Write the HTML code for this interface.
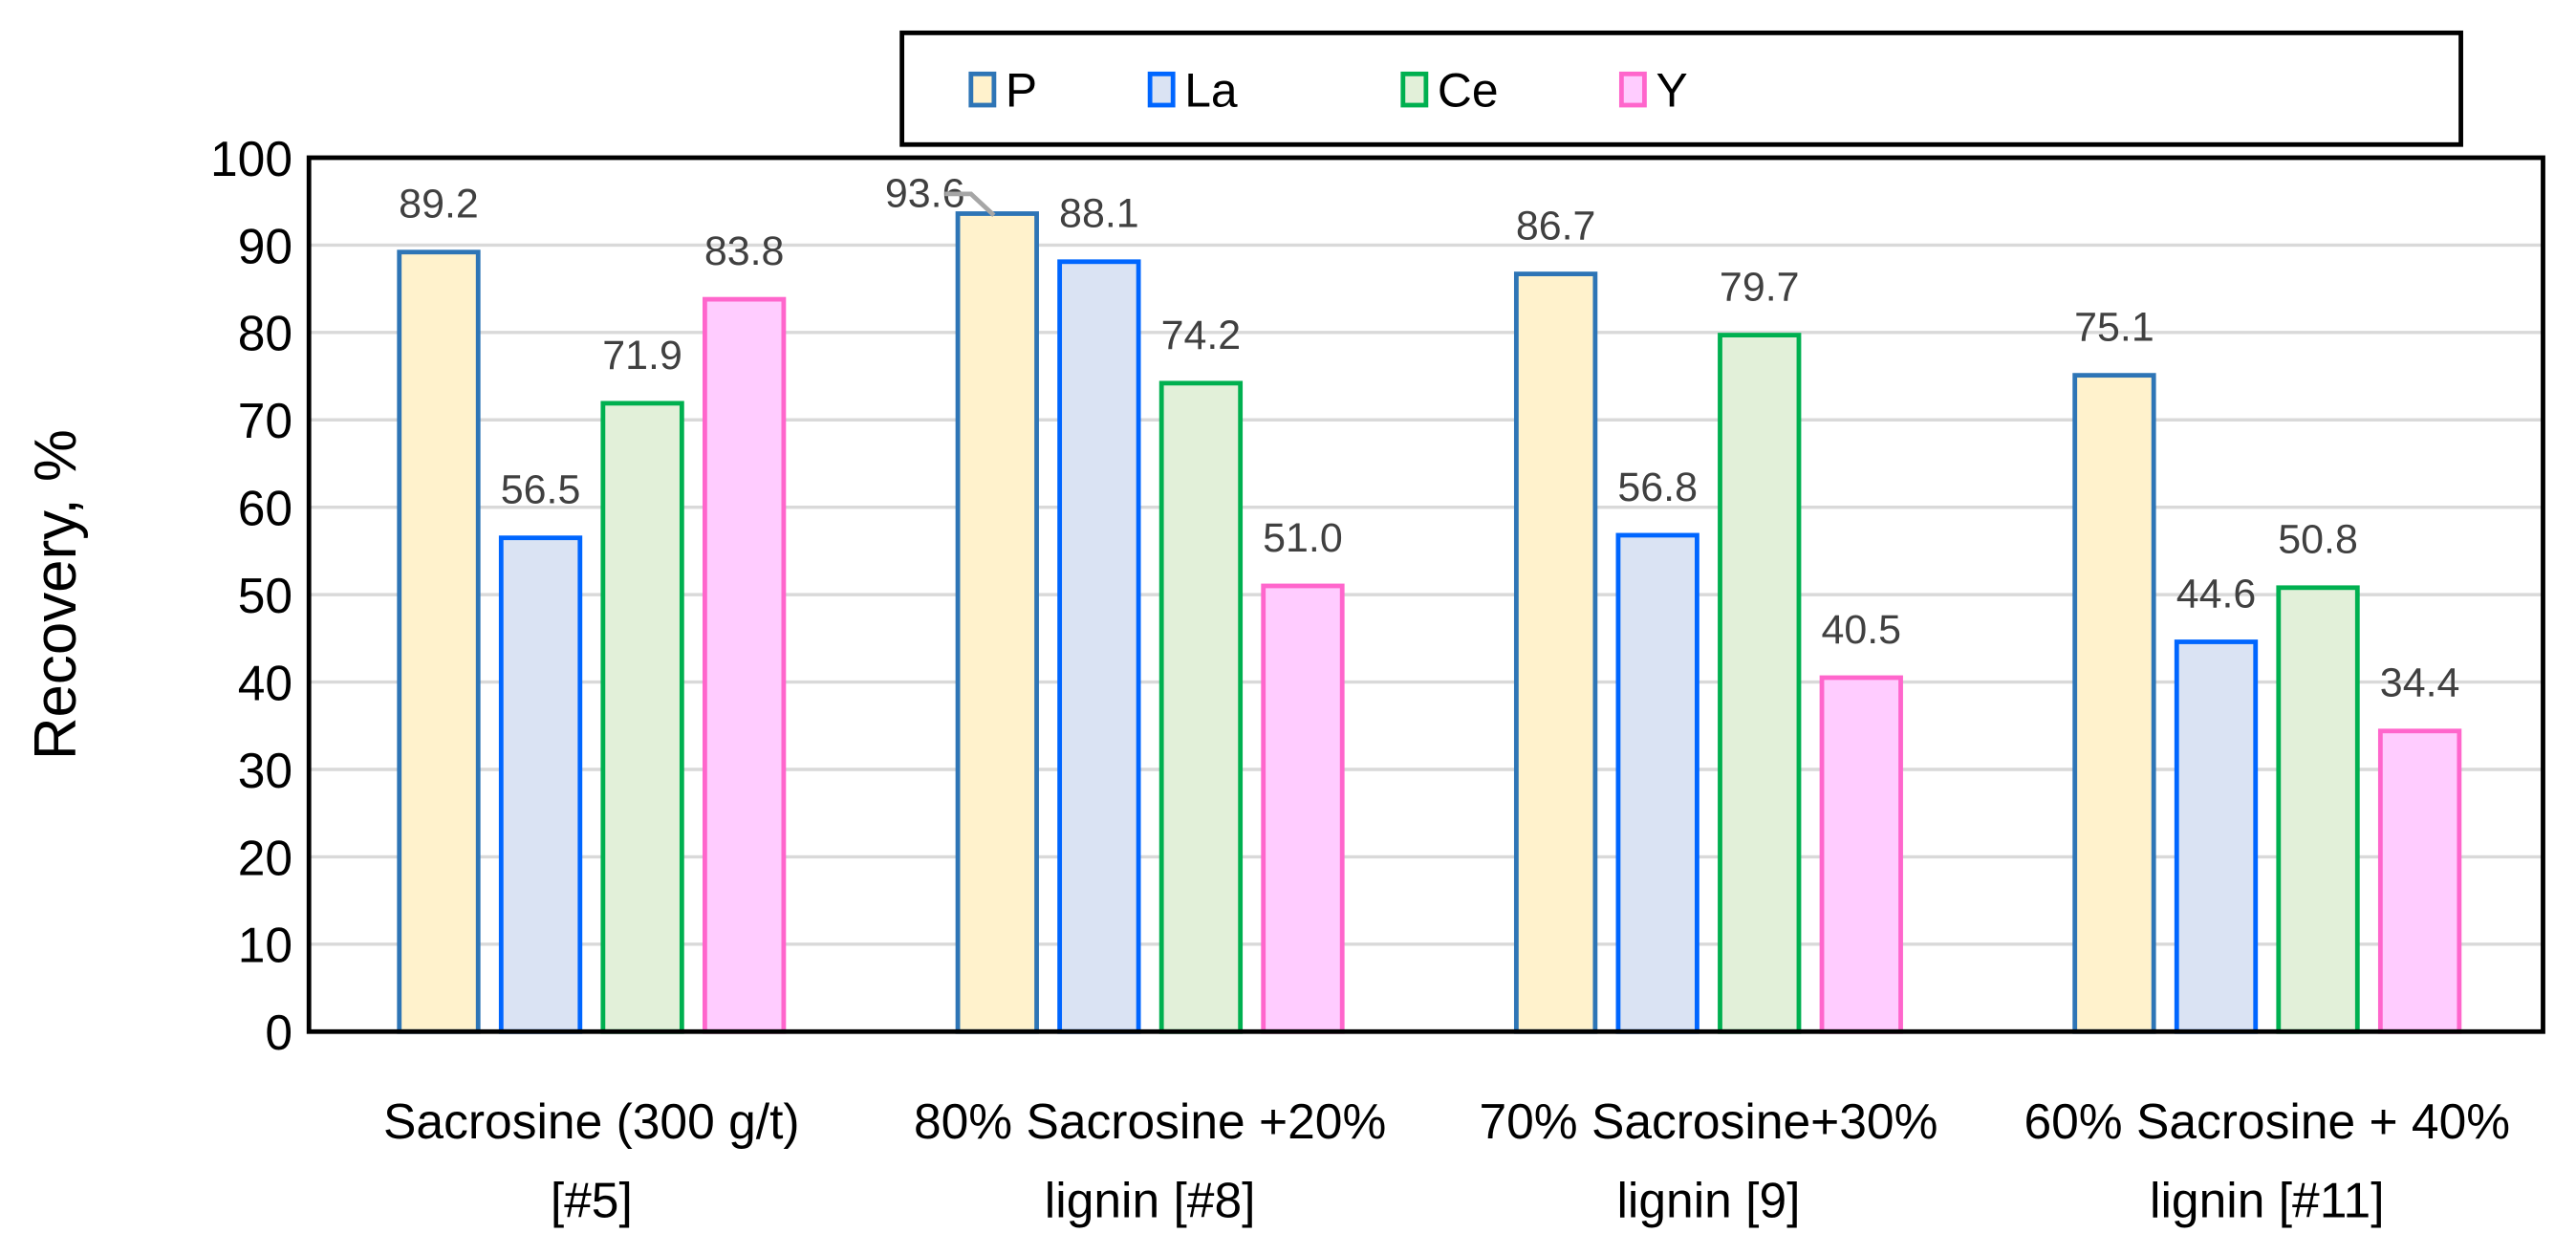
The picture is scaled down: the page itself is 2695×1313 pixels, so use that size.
<!DOCTYPE html>
<html><head><meta charset="utf-8"><style>
html,body{margin:0;padding:0;background:#fff}
svg{display:block}
text{font-family:"Liberation Sans","DejaVu Sans",sans-serif}
</style></head><body>
<svg id="chart" width="2695" height="1313" viewBox="0 0 1568 764" xmlns="http://www.w3.org/2000/svg">
<g id="grid"></g>
<g id="bars"></g>
<g id="labels"></g>
<rect x="188" y="96" width="1360" height="532" fill="none" stroke="#000" stroke-width="2.8"/>
<g id="yticks"></g>
<g id="xcats"></g>
<text transform="translate(46,362) rotate(-90)" text-anchor="middle" font-size="36" fill="#000">Recovery, %</text>
<g>
<rect x="549" y="20" width="949" height="68" fill="#fff" stroke="#000" stroke-width="2.8"/>
<g id="legend-items"></g>
</g>
</svg>
<script>
const categories = [["Sacrosine (300 g/t)","[#5]"],["80% Sacrosine +20%","lignin [#8]"],["70% Sacrosine+30%","lignin [9]"],["60% Sacrosine + 40%","lignin [#11]"]];
const seriesNames = ["P","La","Ce","Y"];
const P = [89.2, 93.6, 86.7, 75.1];
const La = [56.5, 88.1, 56.8, 44.6];
const Ce = [71.9, 74.2, 79.7, 50.8];
const Y = [83.8, 51.0, 40.5, 34.4];
const yTicks = [0,10,20,30,40,50,60,70,80,90,100];

const series = [P, La, Ce, Y];
const fills = ["#FFF2CC","#DAE3F3","#E2F0D9","#FFCCFF"];
const strokes = ["#2E75B6","#0066FF","#00B050","#FF66CC"];
const NS = "http://www.w3.org/2000/svg";
const X0 = 188, X1 = 1548, Y0 = 628, Y1 = 96;
const band = (X1 - X0) / categories.length;
function yScale(v){ return Y0 - (v / 100) * (Y0 - Y1); }
function xBar(ci, si){ return X0 + ci * band + 55 + si * 62; }
function mk(tag, attrs, parent){ const e = document.createElementNS(NS, tag); for (const k in attrs) e.setAttribute(k, attrs[k]); parent.appendChild(e); return e; }

const grid = document.getElementById('grid');
const yt = document.getElementById('yticks');
yTicks.forEach(t => {
  const y = yScale(t);
  if (t > 0 && t < 100) {
    const l = mk('line', {x1: X0, x2: X1, y1: y, y2: y, stroke: '#D9D9D9', 'stroke-width': 2}, grid);
    
    
  }
  const tx = mk('text', {x: 178, y: y + 11, 'text-anchor': 'end', 'font-size': 30, fill: '#000'}, yt);
  tx.textContent = t;
  
  
});

const bars = document.getElementById('bars');
const labels = document.getElementById('labels');
series.forEach((s, si) => {
  s.forEach((v, ci) => {
    const x = xBar(ci, si), y = yScale(v);
    const r = mk('rect', {x: x, y: y, width: 48, height: Y0 - y, fill: fills[si], stroke: strokes[si], 'stroke-width': 2.8}, bars);
    
    
    const lbl = mk('text', {'font-size': 25, fill: '#404040', 'text-anchor': 'middle'}, labels);
    lbl.textContent = v.toFixed(1);
    if (si === 0 && ci === 1) {
      lbl.setAttribute('x', x - 20); lbl.setAttribute('y', y - 4);
      const ld = mk('polyline', {points: (x - 8) + ',' + (y - 12) + ' ' + (x + 8) + ',' + (y - 12) + ' ' + (x + 22) + ',' + (y + 1), fill: 'none', stroke: '#A6A6A6', 'stroke-width': 2.8}, labels);
      
      
    } else {
      lbl.setAttribute('x', x + 24); lbl.setAttribute('y', y - 21);
    }
    
    
  });
});

const xc = document.getElementById('xcats');
categories.forEach((c, ci) => {
  const cx = X0 + ci * band + band / 2 + 2;
  c.forEach((line, li) => {
    const t = mk('text', {x: cx, y: 693 + li * 48, 'text-anchor': 'middle', 'font-size': 30, fill: '#000'}, xc);
    t.textContent = line;
    
    
  });
});

const li = document.getElementById('legend-items');
const legX = [591, 700, 854, 987];
seriesNames.forEach((n, i) => {
  const r = mk('rect', {x: legX[i], y: 45, width: 14, height: 19, fill: fills[i], stroke: strokes[i], 'stroke-width': 2.8}, li);
  
  
  const t = mk('text', {x: legX[i] + 21, y: 65, 'font-size': 29, fill: '#000'}, li);
  t.textContent = n;
  
  
});
</script>
</body></html>
